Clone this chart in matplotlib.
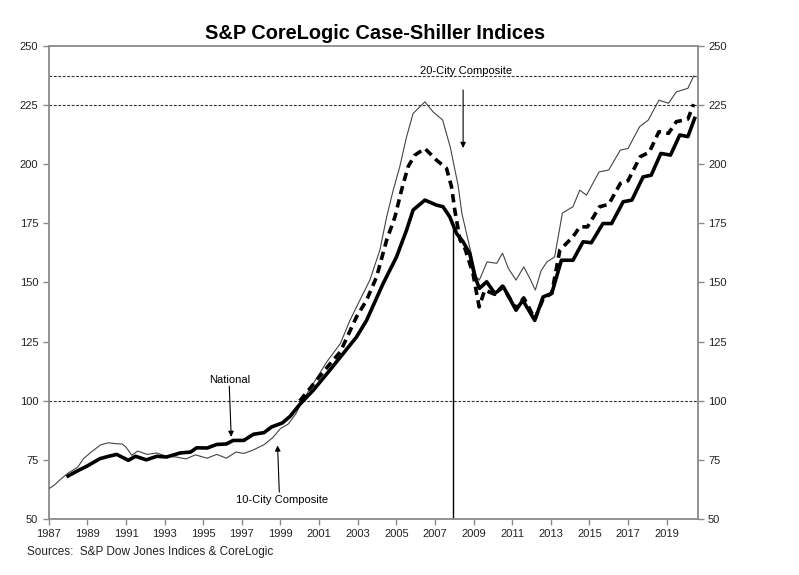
import matplotlib
matplotlib.use("Agg")
import matplotlib.pyplot as plt

plt.rcParams['font.family'] = ['Liberation Sans', 'DejaVu Sans']

# 10-City Composite (thin line)
yrs_10 = [1987.0, 1987.3, 1987.6, 1988.0, 1988.5, 1988.8, 1989.2, 1989.7, 1990.1, 1990.5,
          1990.8, 1991.0, 1991.3, 1991.6, 1992.1, 1992.6, 1993.1, 1993.6, 1994.1, 1994.6,
          1995.2, 1995.7, 1996.2, 1996.7, 1997.1, 1997.6, 1998.15, 1998.6, 1999.0, 1999.4,
          1999.8, 2000.1, 2000.7, 2001.4, 2002.1, 2002.6, 2003.11, 2003.63, 2004.15, 2004.5,
          2004.84, 2005.18, 2005.53, 2005.87, 2006.48, 2006.9, 2007.4, 2007.8, 2008.0, 2008.2,
          2008.4, 2008.8, 2009.15, 2009.3, 2009.7, 2010.2, 2010.5, 2010.8, 2011.2, 2011.6,
          2011.9, 2012.2, 2012.5, 2012.8, 2013.2, 2013.6, 2014.15, 2014.5, 2014.85, 2015.5,
          2016.0, 2016.6, 2017.0, 2017.6, 2018.05, 2018.6, 2019.1, 2019.5, 2020.1, 2020.4]
val_10 = [62.9, 64.5, 66.8, 69.5, 72.0, 75.6, 78.4, 81.5, 82.3, 81.9,
          81.8, 80.5, 77.0, 78.8, 77.4, 78.0, 76.6, 76.3, 75.5, 77.2,
          75.8, 77.4, 75.8, 78.4, 77.8, 79.3, 81.5, 84.5, 88.3, 90.2,
          94.6, 99.5, 107.3, 116.5, 124.2, 134.0, 142.5, 151.0, 163.7, 177.7,
          189.0, 198.9, 211.5, 221.4, 226.3, 222.1, 218.6, 207.0, 199.0, 191.0,
          179.0, 165.0, 152.5, 151.0, 158.7, 158.1, 162.4, 156.0, 151.0, 156.6,
          152.0, 146.8, 155.0, 158.7, 160.8, 179.3, 182.0, 189.0, 186.9, 196.7,
          197.5, 205.9, 206.6, 215.8, 218.6, 227.0, 225.7, 230.5, 232.0, 237.2]

# 20-City Composite (dashed line)
yrs_20 = [2000.0, 2000.5, 2001.0, 2001.5, 2002.1, 2002.94, 2003.46, 2003.98, 2004.5, 2004.93,
          2005.27, 2005.61, 2005.96, 2006.48, 2007.08, 2007.6, 2007.86, 2008.03, 2008.3, 2008.55,
          2008.97, 2009.29, 2009.58, 2010.1, 2010.5, 2010.9, 2011.2, 2011.6, 2011.9, 2012.17,
          2012.6, 2013.05, 2013.47, 2014.15, 2014.5, 2014.9, 2015.53, 2016.0, 2016.6, 2017.0,
          2017.63, 2018.1, 2018.6, 2019.1, 2019.5, 2020.1, 2020.4]
val_20 = [100.0, 105.0, 110.0, 115.0, 120.7, 135.5, 142.5, 152.4, 167.9, 177.7,
          189.0, 198.9, 203.8, 206.6, 201.7, 198.2, 190.4, 180.5, 168.0, 164.5,
          153.8, 139.7, 146.8, 145.0, 148.5, 143.0, 139.0, 143.5, 139.0, 134.5,
          143.0, 145.5, 163.7, 169.3, 173.5, 173.5, 182.0, 183.0, 191.8, 193.0,
          203.1, 205.0, 213.7, 213.0, 217.9, 219.0, 225.3]

# National (thick line)
yrs_nat = [1988.0, 1988.5, 1988.97, 1989.65, 1990.1, 1990.52, 1991.12, 1991.5, 1992.05, 1992.6,
           1993.1, 1993.8, 1994.35, 1994.66, 1995.2, 1995.7, 1996.2, 1996.55, 1997.1, 1997.6,
           1998.15, 1998.54, 1999.1, 1999.5, 2000.0, 2000.7, 2001.56, 2002.25, 2002.94, 2003.46,
           2004.32, 2005.01, 2005.53, 2005.87, 2006.48, 2007.08, 2007.42, 2007.77, 2008.12, 2008.46,
           2008.8, 2009.05, 2009.3, 2009.68, 2010.1, 2010.55, 2011.2, 2011.55, 2012.17,
           2012.6, 2013.05, 2013.55, 2014.15, 2014.67, 2015.1, 2015.7, 2016.15, 2016.75, 2017.2,
           2017.78, 2018.2, 2018.7, 2019.2, 2019.68, 2020.1, 2020.45]
val_nat = [68.3, 70.5, 72.4, 75.6, 76.6, 77.4, 74.9, 76.6, 75.1, 76.6,
           76.3, 78.0, 78.4, 80.2, 80.1, 81.6, 81.8, 83.3, 83.3, 85.9,
           86.6, 89.0, 90.7, 93.5, 98.5, 104.5, 113.0, 120.0, 127.0, 134.0,
           149.6, 160.8, 172.1, 180.6, 184.8, 182.7, 182.0, 177.7, 170.7, 167.2,
           162.3, 153.0, 147.5, 150.3, 145.4, 148.1, 138.3, 142.5, 134.0,
           143.9, 145.4, 159.4, 159.4, 167.2, 166.8, 174.9, 174.9, 184.1, 184.8,
           194.6, 195.3, 204.5, 203.8, 212.3, 211.6, 219.3]

ref_levels = [237.2, 224.9, 100]
recession_year = 2007.92
recession_top = 173.5
year_ticks = list(range(1987, 2020, 2))
value_ticks = [50, 75, 100, 125, 150, 175, 200, 225, 250]

fig = plt.figure(figsize=(7.99, 5.75), dpi=100)
ax = fig.add_axes([0.061, 0.0969, 0.812, 0.8236])

for lvl in ref_levels:
    ax.axhline(lvl, color='#333333', lw=0.8, linestyle=(0, (2.5, 1.5)), zorder=1)

ax.plot([recession_year, recession_year], [50, recession_top], color='black', lw=1.0, zorder=2)

ax.plot(yrs_10, val_10, color='#444444', lw=0.8, zorder=3)
ax.plot(yrs_20, val_20, color='black', lw=2.6, linestyle=(0, (2.3, 1.5)), zorder=4)
ax.plot(yrs_nat, val_nat, color='black', lw=2.6, zorder=5)

arrow = dict(arrowstyle='-|>', color='black', lw=0.8, mutation_scale=8, shrinkA=0, shrinkB=0)
ax.annotate('', xy=(2008.46, 206.8), xytext=(2008.46, 231.3), arrowprops=arrow)
ax.text(2008.6, 239.3, '20-City Composite', ha='center', va='center', fontsize=8)
ax.annotate('', xy=(1996.45, 84.8), xytext=(1996.35, 106.2), arrowprops=arrow)
ax.text(1996.38, 109, 'National', ha='center', va='center', fontsize=8)
ax.annotate('', xy=(1998.85, 81.2), xytext=(1998.94, 61.5), arrowprops=arrow)
ax.text(1999.1, 58, '10-City Composite', ha='center', va='center', fontsize=8)

ax.set_xlim(1987, 2020.6)
ax.set_ylim(50, 250)
ax.set_xticks(year_ticks)
ax.set_yticks(value_ticks)

for s in ax.spines.values():
    s.set_color('#8a8a8a')
    s.set_linewidth(1.3)

ax.tick_params(axis='both', direction='out', length=4, width=1, color='#8a8a8a',
               labelsize=8, labelcolor='#222222')
ax.tick_params(axis='y', right=True, labelright=True)
ax.tick_params(axis='x', pad=3)

fig.text(0.469, 0.941, 'S&P CoreLogic Case-Shiller Indices', ha='center', va='center',
         fontsize=14.4, fontweight='bold')
fig.text(0.034, 1 - 552 / 575, 'Sources:  S&P Dow Jones Indices & CoreLogic',
         ha='left', va='center', fontsize=8.5, color='#222222')

fig.savefig('out.png', dpi=100)
